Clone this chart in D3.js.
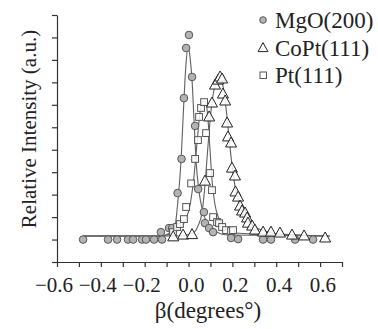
<!DOCTYPE html>
<html>
<head>
  <style>
    body, html { margin: 0; padding: 0; background: #fff; }
    svg { display: block; }
    text { font-family: "Liberation Serif", "Times New Roman", serif; fill: #222; }
  </style>
</head>
<body>
<svg id="svg" width="378" height="329"></svg>
<script src="https://d3js.org/d3.v7.min.js"></script>
<script>
  // measured points [beta, intensity]
  const mgoPoints = [
    [-0.481, 0], [-0.367, 0], [-0.326, 0], [-0.276, 0], [-0.253, 0], [-0.212, 0],
    [-0.194, 0], [-0.157, 0], [-0.121, 0], [-0.126, 0.033], [-0.089, 0.051], [-0.075, 0.051],
    [-0.05, 0.207], [-0.032, 0.359], [-0.021, 0.63], [-0.011, 0.853], [0.002, 0.911],
    [0.016, 0.724], [0.03, 0.506], [0.044, 0.225], [0.07, 0.122], [0.075, 0.073],
    [0.094, 0.051], [0.112, 0.033], [0.194, 0.007], [0.226, 0.002], [0.34, 0],
    [0.376, 0], [0.486, 0], [0.568, 0]
  ]
  const coptPoints = [
    [-0.07, 0.012], [-0.025, 0.02], [0.016, 0.022], [0.075, 0.26], [0.094, 0.546],
    [0.107, 0.608], [0.121, 0.688], [0.135, 0.71], [0.144, 0.724], [0.153, 0.715],
    [0.157, 0.648], [0.167, 0.617], [0.176, 0.519], [0.18, 0.457], [0.194, 0.43],
    [0.198, 0.318], [0.212, 0.283], [0.214, 0.212], [0.226, 0.189], [0.235, 0.149],
    [0.244, 0.127], [0.258, 0.118], [0.267, 0.096], [0.271, 0.073], [0.29, 0.06],
    [0.303, 0.042], [0.34, 0.033], [0.376, 0.033], [0.417, 0.029], [0.472, 0.02],
    [0.527, 0.016], [0.623, 0.007]
  ]
  const ptPoints = [
    [-0.071, 0.033], [-0.052, 0.056], [-0.039, 0.069], [-0.021, 0.091], [-0.011, 0.145],
    [0.012, 0.25], [0.03, 0.359], [0.043, 0.443], [0.048, 0.546], [0.057, 0.586],
    [0.071, 0.612], [0.08, 0.474], [0.098, 0.296], [0.107, 0.22], [0.112, 0.1],
    [0.13, 0.078], [0.139, 0.073], [0.153, 0.056], [0.171, 0.042], [0.194, 0.038],
    [0.203, 0.042]
  ]

  // fitted curves
  const mgoFit = [
    [-0.481, 0.016], [-0.13, 0.016], [-0.084, 0.029], [-0.062, 0.06], [-0.048, 0.176],
    [-0.034, 0.354], [-0.021, 0.621], [-0.011, 0.79], [-0.002, 0.86], [0.007, 0.81],
    [0.016, 0.71], [0.025, 0.532], [0.034, 0.354], [0.048, 0.212], [0.066, 0.122],
    [0.088, 0.069], [0.121, 0.038], [0.18, 0.02], [0.645, 0.016]
  ]
  const coptFit = [
    [-0.481, 0.016], [-0.039, 0.016], [0.021, 0.029], [0.043, 0.06], [0.062, 0.122],
    [0.075, 0.243], [0.089, 0.421], [0.103, 0.577], [0.116, 0.666], [0.13, 0.706],
    [0.144, 0.72], [0.157, 0.684], [0.171, 0.586], [0.185, 0.452], [0.198, 0.332],
    [0.212, 0.238], [0.23, 0.167], [0.249, 0.122], [0.271, 0.087], [0.303, 0.056],
    [0.349, 0.038], [0.417, 0.024], [0.623, 0.016]
  ]
  const ptFit = [
    [-0.481, 0.016], [-0.13, 0.016], [-0.084, 0.024], [-0.048, 0.042], [-0.016, 0.082],
    [0.007, 0.154], [0.025, 0.283], [0.039, 0.434], [0.052, 0.563], [0.066, 0.617],
    [0.08, 0.608], [0.089, 0.532], [0.098, 0.399], [0.107, 0.265], [0.121, 0.154],
    [0.139, 0.091], [0.167, 0.051], [0.212, 0.029], [0.645, 0.016]
  ]

  const seriesNames = ["MgO(200)", "CoPt(111)", "Pt(111)"]
  const xTicks = [-0.6, -0.5, -0.4, -0.3, -0.2, -0.1, 0, 0.1, 0.2, 0.3, 0.4, 0.5, 0.6, 0.7]
  const xLabels = [-0.6, -0.4, -0.2, 0, 0.2, 0.4, 0.6]
  const yTicks = d3.range(-0.1, 1.001, 0.1)

  const svg = d3.select("#svg")
  const plotLeft = 57, plotRight = 342, plotTop = 15, plotBottom = 262

  const x = d3.scaleLinear().domain([-0.6, 0.7]).range([plotLeft, plotRight])
  const y = d3.scaleLinear().domain([-0.1, 1.0]).range([plotBottom, plotTop])

  // axes
  svg.append("g")
    .attr("transform", `translate(0, ${plotBottom})`)
    .call(d3.axisBottom(x).tickValues(xTicks).tickSize(5).tickSizeOuter(0).tickFormat(""))
  svg.append("g")
    .attr("transform", `translate(${plotLeft}, 0)`)
    .call(d3.axisLeft(y).tickValues(yTicks).tickSize(5).tickSizeOuter(0).tickFormat(""))
  svg.selectAll(".domain, .tick line").attr("stroke", "#333").attr("stroke-width", 1.2)

  svg.append("g").selectAll("text")
    .data(xLabels)
    .enter()
    .append("text")
    .attr("x", d => x(d) + 16)
    .attr("y", 292)
    .attr("text-anchor", "end")
    .attr("font-size", 21)
    .text(d => d < 0 ? "\u2212" + Math.abs(d).toFixed(1) : d.toFixed(1))

  svg.append("text")
    .attr("x", 208).attr("y", 318)
    .attr("text-anchor", "middle")
    .attr("font-size", 23)
    .text("\u03b2(degrees\u00b0)")

  svg.append("text")
    .attr("transform", "translate(36, 129) rotate(-90)")
    .attr("text-anchor", "middle")
    .attr("font-size", 21)
    .text("Relative Intensity (a.u.)")

  // fit lines
  const lineGen = d3.line()
    .x(d => x(d[0]))
    .y(d => y(d[1]))
    .curve(d3.curveMonotoneX)

  const fits = svg.append("g")
  ;[mgoFit, ptFit, coptFit].forEach(f => {
    fits.append("path")
      .attr("d", lineGen(f))
      .attr("fill", "none")
      .attr("stroke", "#5f5f5f")
      .attr("stroke-width", 1.1)
  })

  // markers
  const triangle = s => `M0,${-s * 0.6}L${s * 0.55},${s * 0.4}L${-s * 0.55},${s * 0.4}Z`

  svg.append("g").selectAll("circle")
    .data(mgoPoints)
    .enter()
    .append("circle")
    .attr("cx", d => x(d[0]))
    .attr("cy", d => y(d[1]))
    .attr("r", 3.8)
    .attr("fill", "#b3b3b3")
    .attr("stroke", "#555")
    .attr("stroke-width", 1)

  svg.append("g").selectAll("rect")
    .data(ptPoints)
    .enter()
    .append("rect")
    .attr("x", d => x(d[0]) - 3.4)
    .attr("y", d => y(d[1]) - 3.4)
    .attr("width", 6.8)
    .attr("height", 6.8)
    .attr("fill", "#fff")
    .attr("fill-opacity", 0.85)
    .attr("stroke", "#555")
    .attr("stroke-width", 1)

  svg.append("g").selectAll("path")
    .data(coptPoints)
    .enter()
    .append("path")
    .attr("transform", d => `translate(${x(d[0])}, ${y(d[1])})`)
    .attr("d", triangle(10))
    .attr("fill", "#fff")
    .attr("fill-opacity", 0.85)
    .attr("stroke", "#222")
    .attr("stroke-width", 1)

  // legend
  const legend = svg.append("g")
  const rowsY = [20, 48, 75]
  legend.append("circle")
    .attr("cx", 263).attr("cy", rowsY[0]).attr("r", 3.3)
    .attr("fill", "#b3b3b3").attr("stroke", "#555")
  legend.append("path")
    .attr("transform", `translate(263, ${rowsY[1]})`)
    .attr("d", triangle(9))
    .attr("fill", "#fff").attr("stroke", "#222")
  legend.append("rect")
    .attr("x", 260).attr("y", rowsY[2] - 3).attr("width", 6.5).attr("height", 6.5)
    .attr("fill", "#fff").attr("stroke", "#555")
  legend.selectAll("text")
    .data(seriesNames)
    .enter()
    .append("text")
    .attr("x", 275)
    .attr("y", (d, i) => rowsY[i] + 8)
    .attr("font-size", 23)
    .text(d => d)
</script>
</body>
</html>
